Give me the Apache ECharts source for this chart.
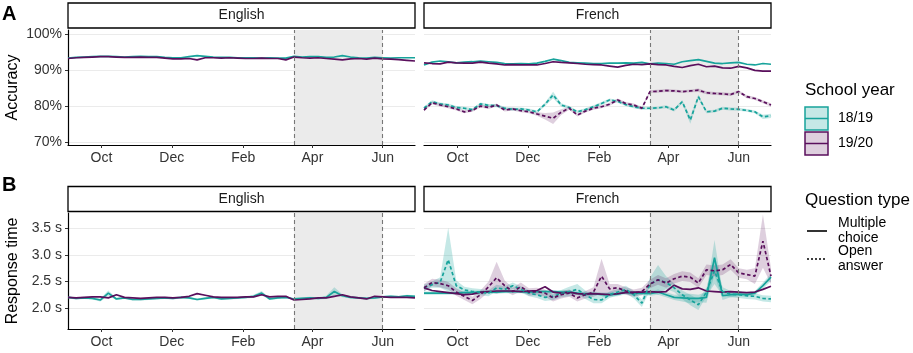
<!DOCTYPE html>
<html>
<head>
<meta charset="utf-8">
<script src="https://cdn.jsdelivr.net/npm/echarts@6/dist/echarts.min.js"></script>
<style>
  html, body { margin: 0; padding: 0; background: #fff; }
  #chart { width: 913px; height: 353px; }
</style>
</head>
<body>
<div id="chart"></div>
<script>
// weekly points, Sep 2019 - Jun 2020 (both school years shown on the same calendar)
var weeks = ['2019-09-02','2019-09-09','2019-09-16','2019-09-23','2019-09-30',
  '2019-10-07','2019-10-14','2019-10-21','2019-10-28',
  '2019-11-04','2019-11-11','2019-11-18','2019-11-25',
  '2019-12-02','2019-12-09','2019-12-16','2019-12-23','2019-12-30',
  '2020-01-06','2020-01-13','2020-01-20','2020-01-27',
  '2020-02-03','2020-02-10','2020-02-17','2020-02-24',
  '2020-03-02','2020-03-09','2020-03-16','2020-03-23','2020-03-30',
  '2020-04-06','2020-04-13','2020-04-20','2020-04-27',
  '2020-05-04','2020-05-11','2020-05-18','2020-05-25',
  '2020-06-01','2020-06-08','2020-06-15','2020-06-22','2020-06-29'];

var tickDates  = ['2019-10-01','2019-12-01','2020-02-01','2020-04-01','2020-06-01'];
var tickLabels = ['Oct','Dec','Feb','Apr','Jun'];
var closureStart = '2020-03-16';
var closureEnd   = '2020-06-01';

var accTicks = [70, 80, 90, 100];
var rtTicks  = [2.0, 2.5, 3.0, 3.5];

// A - accuracy (%)
var accEn1819mc = [93.3,93.5,93.6,93.7,93.8,93.8,93.7,93.6,93.7,93.8,93.7,93.7,93.5,93.4,93.4,93.7,94.0,93.8,93.6,93.5,93.5,93.4,93.4,93.4,93.3,93.4,93.3,93.3,93.8,93.6,93.7,93.7,93.5,93.6,94.0,93.6,93.4,93.3,93.5,93.4,93.3,93.4,93.4,93.4];
var accEn1920mc = [93.2,93.4,93.5,93.6,93.7,93.7,93.6,93.5,93.5,93.6,93.5,93.5,93.3,93.1,93.1,93.2,92.8,93.4,93.4,93.3,93.4,93.3,93.2,93.2,93.3,93.2,93.2,92.8,93.6,93.4,93.3,93.4,93.2,93.0,92.8,93.1,93.2,93.0,93.3,93.1,93.0,92.9,92.7,92.5];
var accFr1819mc = [91.4,92.2,92.5,92.3,92.0,92.2,92.3,92.5,92.3,92.1,91.8,91.7,91.8,91.7,91.9,92.4,93.0,92.6,92.1,92.0,91.9,91.8,91.8,91.9,91.9,92.0,91.9,92.1,91.7,91.9,91.8,91.6,92.3,92.6,92.9,92.4,91.9,91.8,92.0,92.1,91.6,91.4,91.8,91.6];
var accFr1920mc = [92.0,91.8,91.7,92.2,92.0,91.9,91.9,92.2,91.9,91.7,91.4,91.5,91.4,91.4,91.4,91.8,92.3,92.1,92.0,91.8,91.6,91.5,91.4,91.1,90.8,91.3,91.6,91.5,91.7,91.5,91.4,91.0,90.7,91.2,91.6,90.9,91.1,90.6,90.5,91.0,90.6,89.9,89.7,89.7];
var accFr1819open = [79.4,81.2,80.6,80.3,79.6,79.4,79.0,80.6,80.2,80.1,79.4,79.1,79.2,78.9,78.4,80.5,83.1,80.3,79.6,78.4,79.0,79.8,80.7,81.7,81.3,80.4,79.8,79.4,79.4,79.5,79.8,78.9,81.2,76.1,82.6,78.4,78.6,79.4,79.2,79.1,78.8,78.4,77.0,77.3];
var accFr1920open = [78.9,80.9,80.3,79.8,79.2,78.4,78.8,80.0,79.6,80.3,78.9,79.2,78.7,78.4,77.8,77.2,76.6,78.3,79.4,77.5,78.6,79.4,79.8,80.5,81.7,80.7,80.3,79.4,84.0,84.1,84.3,84.2,84.0,84.2,84.4,83.7,83.5,83.4,83.2,84.0,82.6,82.1,81.2,80.3];
// half widths of the confidence bands that are visible
var accFr1819openCi = [0.4,0.4,0.4,0.4,0.4,0.4,0.4,0.4,0.4,0.4,0.4,0.4,0.4,0.4,0.4,0.5,0.9,0.5,0.4,0.4,0.4,0.4,0.4,0.4,0.4,0.4,0.4,0.4,0.4,0.4,0.4,0.4,0.5,1.0,0.6,0.4,0.4,0.4,0.4,0.4,0.4,0.4,0.6,0.6];
var accFr1920openCi = [0.4,0.4,0.4,0.4,0.4,0.4,0.4,0.4,0.4,0.4,0.4,0.4,0.4,0.4,0.5,0.9,1.6,0.8,0.4,0.4,0.4,0.4,0.4,0.4,0.4,0.4,0.4,0.4,0.4,0.4,0.4,0.4,0.4,0.4,0.5,0.4,0.4,0.4,0.4,0.4,0.4,0.4,0.4,0.5];

// B - response time (s)
var rtEn1819mc = [2.20,2.18,2.19,2.18,2.15,2.28,2.17,2.19,2.16,2.16,2.17,2.18,2.19,2.18,2.20,2.19,2.16,2.18,2.20,2.17,2.18,2.19,2.20,2.22,2.28,2.17,2.19,2.20,2.17,2.18,2.19,2.18,2.20,2.31,2.23,2.20,2.19,2.18,2.19,2.21,2.22,2.21,2.23,2.22];
var rtEn1920mc = [2.20,2.19,2.20,2.21,2.21,2.19,2.25,2.20,2.19,2.18,2.19,2.20,2.20,2.19,2.20,2.22,2.27,2.24,2.21,2.20,2.20,2.20,2.21,2.21,2.25,2.21,2.22,2.22,2.15,2.16,2.17,2.19,2.19,2.22,2.25,2.21,2.19,2.17,2.22,2.21,2.20,2.20,2.20,2.19];
var rtEn1819mcCi = [0.02,0.02,0.02,0.02,0.03,0.05,0.02,0.02,0.02,0.02,0.02,0.02,0.02,0.02,0.02,0.02,0.02,0.02,0.02,0.02,0.02,0.02,0.02,0.03,0.04,0.02,0.02,0.02,0.02,0.02,0.02,0.02,0.03,0.08,0.03,0.02,0.02,0.02,0.02,0.02,0.02,0.02,0.02,0.02];
var rtFr1819mc = [2.28,2.28,2.28,2.28,2.28,2.29,2.29,2.30,2.30,2.30,2.31,2.31,2.31,2.30,2.31,2.31,2.31,2.30,2.30,2.28,2.26,2.27,2.25,2.25,2.26,2.30,2.27,2.28,2.27,2.30,2.25,2.20,2.19,2.18,2.18,2.20,2.95,2.23,2.25,2.26,2.25,2.28,2.42,2.58];
var rtFr1920mc = [2.38,2.33,2.31,2.29,2.27,2.25,2.26,2.30,2.31,2.32,2.32,2.32,2.31,2.32,2.33,2.40,2.30,2.28,2.30,2.27,2.26,2.27,2.26,2.25,2.27,2.29,2.30,2.30,2.31,2.30,2.31,2.43,2.36,2.35,2.38,2.32,2.31,2.30,2.31,2.30,2.29,2.30,2.35,2.41];
var rtFr1819open = [2.38,2.44,2.48,2.91,2.42,2.34,2.31,2.30,2.28,2.38,2.35,2.42,2.35,2.28,2.25,2.20,2.22,2.27,2.31,2.35,2.25,2.16,2.15,2.25,2.30,2.35,2.25,2.09,2.45,2.53,2.48,2.38,2.25,2.15,2.06,2.30,2.70,2.31,2.26,2.25,2.23,2.22,2.18,2.17];
var rtFr1920open = [2.38,2.48,2.46,2.42,2.30,2.22,2.14,2.25,2.40,2.57,2.42,2.31,2.40,2.30,2.31,2.28,2.19,2.25,2.28,2.19,2.25,2.30,2.60,2.36,2.38,2.32,2.28,2.31,2.45,2.53,2.47,2.55,2.60,2.58,2.47,2.72,2.70,2.72,2.82,2.66,2.63,2.60,3.26,2.60];
var rtFr1819mcCi = [0.03,0.03,0.03,0.03,0.03,0.03,0.03,0.03,0.03,0.03,0.03,0.03,0.03,0.03,0.03,0.03,0.03,0.03,0.03,0.03,0.04,0.04,0.04,0.04,0.04,0.04,0.04,0.04,0.04,0.05,0.05,0.05,0.07,0.09,0.07,0.10,0.33,0.08,0.05,0.04,0.04,0.04,0.06,0.07];
var rtFr1819openCi = [0.06,0.06,0.10,0.60,0.10,0.06,0.06,0.06,0.06,0.06,0.06,0.06,0.06,0.06,0.06,0.07,0.07,0.07,0.09,0.10,0.08,0.07,0.06,0.06,0.06,0.07,0.07,0.07,0.12,0.28,0.12,0.08,0.08,0.10,0.10,0.08,0.25,0.08,0.06,0.06,0.06,0.06,0.06,0.06];
var rtFr1920openCi = [0.07,0.07,0.07,0.07,0.07,0.07,0.07,0.08,0.10,0.30,0.10,0.07,0.08,0.07,0.07,0.07,0.07,0.07,0.07,0.07,0.07,0.09,0.33,0.09,0.07,0.07,0.07,0.07,0.08,0.09,0.09,0.09,0.09,0.09,0.09,0.10,0.10,0.10,0.10,0.09,0.09,0.15,0.50,0.15];

var TEAL = '#17a39b', PURP = '#5a0f5c';
var TEAL_F = 'rgba(23,163,155,0.25)', PURP_F = 'rgba(90,15,92,0.2)';
var FONT = '"Liberation Sans", Arial, Helvetica, sans-serif';

function t(s) { return Date.parse(s); }
var tickTs = tickDates.map(t);

var chart = echarts.init(document.getElementById('chart'), null, { renderer: 'canvas' });

var panels = [
  { left: 68,  top: 30,  height: 115 },
  { left: 424, top: 30,  height: 115 },
  { left: 68,  top: 213, height: 116 },
  { left: 424, top: 213, height: 116 }
];

var grids = panels.map(function (p) {
  return { left: p.left, top: p.top, width: 347, height: p.height, containLabel: false };
});

// dates are kept as timestamps on a plain value axis so the month ticks can be placed exactly
var xAxes = panels.map(function (p, i) {
  return {
    type: 'value', gridIndex: i,
    min: t(weeks[0]), max: t(weeks[weeks.length - 1]),
    axisLine: { show: true, onZero: false, lineStyle: { color: '#000', width: 1.2 } },
    axisTick: { show: true, length: 3, customValues: tickTs, lineStyle: { color: '#333', width: 1 } },
    axisLabel: {
      customValues: tickTs, margin: 6, fontSize: 14, color: '#333', fontFamily: FONT,
      formatter: function (v) { return tickLabels[tickTs.indexOf(v)]; }
    },
    splitLine: { show: false }
  };
});

function yAxisOf(i, isAcc, showAxis) {
  var ticks = isAcc ? accTicks : rtTicks;
  return {
    type: 'value', gridIndex: i,
    min: isAcc ? 69.2 : 1.604,
    max: isAcc ? 101.1 : 3.79,
    name: showAxis ? (isAcc ? 'Accuracy' : 'Response time') : '',
    nameLocation: 'middle', nameGap: 47,
    nameTextStyle: { fontSize: 16, color: '#000', fontFamily: FONT },
    axisLine: { show: showAxis, lineStyle: { color: '#000', width: 1.2 } },
    axisTick: { show: showAxis, length: 3, customValues: ticks, lineStyle: { color: '#333' } },
    axisLabel: {
      show: showAxis, customValues: ticks, margin: 6, fontSize: 14, color: '#333', fontFamily: FONT,
      formatter: function (v) { return isAcc ? v + '%' : v.toFixed(1) + ' s'; }
    },
    splitLine: { show: true, lineStyle: { color: '#ebebeb', width: 1 } }
  };
}
var yAxes = [yAxisOf(0, true, true), yAxisOf(1, true, false), yAxisOf(2, false, true), yAxisOf(3, false, false)];

var series = [];

// closure period shading + dashed limits in every panel
panels.forEach(function (p, i) {
  series.push({
    type: 'line', xAxisIndex: i, yAxisIndex: i, data: [], z: 1, silent: true,
    markArea: {
      silent: true,
      itemStyle: { color: '#ebebeb' },
      data: [[{ xAxis: t(closureStart) }, { xAxis: t(closureEnd) }]]
    },
    markLine: {
      silent: true, symbol: 'none', label: { show: false },
      lineStyle: { color: '#777', type: [4, 3], width: 1.1 },
      data: [{ xAxis: t(closureStart) }, { xAxis: t(closureEnd) }]
    }
  });
});

// confidence ribbon: one polygon (lower edge forward, upper edge back) through the axis scales
function band(i, vals, ci, fill) {
  var rows = weeks.map(function (d, k) { return [t(d), vals[k] - ci[k], vals[k] + ci[k]]; });
  series.push({
    type: 'custom', xAxisIndex: i, yAxisIndex: i, data: rows, z: 2, silent: true,
    encode: { x: 0, y: [1, 2] },
    renderItem: function (params, api) {
      if (params.dataIndex !== 0) return null;
      var pts = [];
      rows.forEach(function (r) { pts.push(api.coord([r[0], r[1]])); });
      for (var k = rows.length - 1; k >= 0; k--) pts.push(api.coord([rows[k][0], rows[k][2]]));
      return { type: 'polygon', shape: { points: pts }, style: { fill: fill } };
    }
  });
}

function line(i, vals, color, dashed) {
  series.push({
    type: 'line', xAxisIndex: i, yAxisIndex: i,
    data: weeks.map(function (d, k) { return [t(d), vals[k]]; }),
    symbol: 'none', silent: true, z: 3,
    lineStyle: { color: color, width: 1.7, type: dashed ? [3.5, 2.5] : 'solid' }
  });
}

// ribbons first
band(1, accFr1819open, accFr1819openCi, TEAL_F);
band(1, accFr1920open, accFr1920openCi, PURP_F);
band(2, rtEn1819mc, rtEn1819mcCi, TEAL_F);
band(3, rtFr1819mc, rtFr1819mcCi, TEAL_F);
band(3, rtFr1819open, rtFr1819openCi, TEAL_F);
band(3, rtFr1920open, rtFr1920openCi, PURP_F);

line(0, accEn1819mc, TEAL, false);
line(0, accEn1920mc, PURP, false);
line(1, accFr1819mc, TEAL, false);
line(1, accFr1920mc, PURP, false);
line(1, accFr1819open, TEAL, true);
line(1, accFr1920open, PURP, true);
line(2, rtEn1819mc, TEAL, false);
line(2, rtEn1920mc, PURP, false);
line(3, rtFr1819mc, TEAL, false);
line(3, rtFr1920mc, PURP, false);
line(3, rtFr1819open, TEAL, true);
line(3, rtFr1920open, PURP, true);

// facet strips, panel letters and legends
function strip(x, y, label) {
  return [
    { type: 'rect', shape: { x: x, y: y, width: 347, height: 25 },
      style: { fill: '#fff', stroke: '#000', lineWidth: 1.3 } },
    { type: 'text', x: x + 173.5, y: y + 12.5,
      style: { text: label, fontSize: 14, fontFamily: FONT, fill: '#1a1a1a', align: 'center', verticalAlign: 'middle' } }
  ];
}
function txt(x, y, s, size, weight) {
  return { type: 'text', x: x, y: y,
    style: { text: s, fontSize: size, fontWeight: weight || 'normal', fontFamily: FONT, fill: '#000',
      align: 'left', verticalAlign: 'middle', lineHeight: 15 } };
}
function key(y, color, fill) {
  return [
    { type: 'rect', shape: { x: 805, y: y, width: 23, height: 23 }, style: { fill: fill, stroke: color, lineWidth: 1.5 } },
    { type: 'line', shape: { x1: 805, y1: y + 11.5, x2: 828, y2: y + 11.5 }, style: { stroke: color, lineWidth: 1.5 } }
  ];
}

var graphics = []
  .concat(strip(68, 3, 'English'), strip(424, 3, 'French'))
  .concat(strip(68, 186.5, 'English'), strip(424, 186.5, 'French'))
  .concat([txt(2, 14, 'A', 20, 'bold'), txt(2, 185, 'B', 20, 'bold')])
  .concat([txt(805, 90, 'School year', 17)])
  .concat(key(107, TEAL, TEAL_F), key(132, PURP, PURP_F))
  .concat([txt(838, 118.5, '18/19', 14), txt(838, 143.5, '19/20', 14)])
  .concat([txt(805, 200, 'Question type', 17)])
  .concat([
    { type: 'line', shape: { x1: 807, y1: 231, x2: 827, y2: 231 }, style: { stroke: '#000', lineWidth: 1.6 } },
    { type: 'line', shape: { x1: 807, y1: 259, x2: 827, y2: 259 }, style: { stroke: '#000', lineWidth: 1.6, lineDash: [2, 2] } },
    txt(838, 230.5, 'Multiple\nchoice', 14),
    txt(838, 259, 'Open\nanswer', 14)
  ]);

chart.setOption({
  animation: false,
  backgroundColor: '#fff',
  textStyle: { fontFamily: FONT },
  grid: grids,
  xAxis: xAxes,
  yAxis: yAxes,
  series: series,
  graphic: graphics
});
</script>
</body>
</html>
